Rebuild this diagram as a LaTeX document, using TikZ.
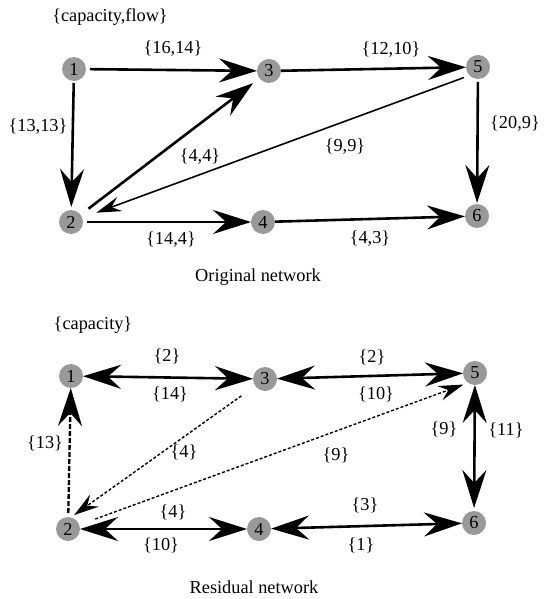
\documentclass[tikz,border=0pt]{standalone}
\usepackage{fontspec}
\setmainfont{Liberation Serif}
\usetikzlibrary{arrows.meta}
\definecolor{nodegray}{RGB}{153,153,153}
\begin{document}
\begin{tikzpicture}[x=1pt,y=-1pt,
  font=\fontsize{18.3}{20}\selectfont,
  vertex/.style={circle,fill=nodegray,minimum size=24pt,inner sep=0pt,outer sep=0pt},
  lbl/.style={inner sep=0pt},
  bigtip/.tip={Stealth[length=38pt,width=24pt,inset=13pt]},
  smalltip/.tip={Stealth[length=25pt,width=15pt,inset=9pt]},
  heavy/.style={line width=2.6pt,-bigtip},
  heavyboth/.style={line width=2.6pt,bigtip-bigtip},
  light/.style={line width=1.6pt,-smalltip},
  heavydash/.style={line width=2.3pt,dash pattern=on 5pt off 2pt,-bigtip},
  lightdash/.style={line width=1.4pt,dash pattern=on 3pt off 2pt,-smalltip}
]
\useasboundingbox (0,0) rectangle (544,599);

% ---------- original network ----------
\node[vertex] (n1) at (74,69)  {1};
\node[vertex] (n3) at (269,71) {3};
\node[vertex] (n5) at (478,67) {5};
\node[vertex] (n2) at (71,222) {2};
\node[vertex] (n4) at (263,222) {4};
\node[vertex] (n6) at (477,216) {6};

\draw[heavy,shorten <=4pt] (n1) -- (n3);
\draw[heavy,shorten <=2pt,shorten >=3pt] (n1) -- (n2);
\draw[heavy,shorten <=10pt,shorten >=8pt] (n2) -- (n3);
\draw[light,shorten <=6pt,shorten >=15pt] (n5.225) -- (n2);
\draw[heavy] (n3) -- (n5);
\draw[heavy,shorten <=3pt,shorten >=1pt] (n5) -- (n6);
\draw[heavy,shorten <=4pt] (n2) -- (n4);
\draw[heavy] (n4) -- (n6);

\node[lbl] (t1) at (110,17) {\{capacity,flow\}};
\node[lbl] (l13) at (173,49) {\{16,14\}};
\node[lbl] (l35) at (391,50) {\{12,10\}};
\node[lbl] (l12) at (38,127) {\{13,13\}};
\node[lbl] (l56) at (515,124) {\{20,9\}};
\node[lbl] (l23) at (200,157) {\{4,4\}};
\node[lbl] (l52) at (345,147) {\{9,9\}};
\node[lbl] (l24) at (171,240) {\{14,4\}};
\node[lbl] (l46) at (370,239) {\{4,3\}};
\node[lbl,anchor=base] (cap1) at (258,281) {Original network};

% ---------- residual network ----------
\node[vertex] (m1) at (71,376)  {1};
\node[vertex] (m3) at (265,379) {3};
\node[vertex] (m5) at (475,373) {5};
\node[vertex] (m2) at (68,529)  {2};
\node[vertex] (m4) at (259,529) {4};
\node[vertex] (m6) at (474,523) {6};

\draw[heavyboth] (m1) -- (m3);
\draw[heavyboth] (m3) -- (m5);
\draw[heavydash,shorten <=4pt] (m2) -- (m1);
\draw[lightdash,shorten <=17pt,shorten >=4pt] (m3) -- (m2.76);
\draw[lightdash,shorten <=17pt,shorten >=5pt] (m2) -- (m5.235);
\draw[heavyboth,shorten >=3pt] (m5) -- (m6);
\draw[heavyboth] (m2) -- (m4);
\draw[heavyboth] (m4) -- (m6);

\node[lbl] (t2) at (93,325) {\{capacity\}};
\node[lbl] (r13a) at (167,356) {\{2\}};
\node[lbl] (r13b) at (170,394) {\{14\}};
\node[lbl] (r35a) at (372,357) {\{2\}};
\node[lbl] (r35b) at (376,394) {\{10\}};
\node[lbl] (r21) at (45,443) {\{13\}};
\node[lbl] (r32) at (184,452) {\{4\}};
\node[lbl] (r25) at (336,455) {\{9\}};
\node[lbl] (r56a) at (444,429) {\{9\}};
\node[lbl] (r56b) at (506,430) {\{11\}};
\node[lbl] (r24a) at (173,512) {\{4\}};
\node[lbl] (r24b) at (161,545) {\{10\}};
\node[lbl] (r46a) at (365,505) {\{3\}};
\node[lbl] (r46b) at (361,545) {\{1\}};
\node[lbl,anchor=base] (cap2) at (254,593) {Residual network};
\end{tikzpicture}
\end{document}
